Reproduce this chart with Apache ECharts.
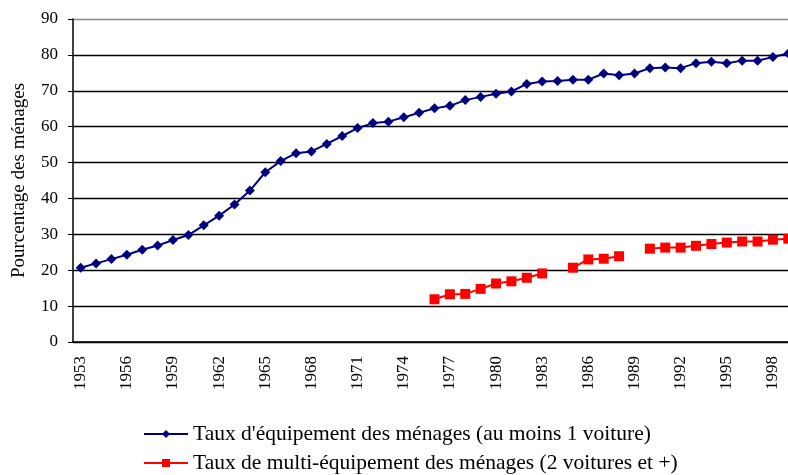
<!DOCTYPE html>
<html><head><meta charset="utf-8">
<script src="https://cdn.jsdelivr.net/npm/echarts@6/dist/echarts.min.js"></script>
<style>html,body{margin:0;padding:0;background:#fff}#c{width:788px;height:475px}</style>
</head><body><div id="c"></div>
<script>
const years = [];
for (let y = 1953; y <= 1999; y++) years.push(String(y));
const equipement = [20.7,21.9,23.1,24.3,25.7,26.9,28.4,29.8,32.5,35.2,38.3,42.2,47.3,50.4,52.6,53.1,55.2,57.4,59.6,61.0,61.4,62.6,63.9,65.1,65.8,67.4,68.3,69.2,69.8,71.9,72.6,72.7,73.1,73.1,74.8,74.3,74.8,76.3,76.5,76.3,77.7,78.1,77.7,78.4,78.4,79.4,80.4];
const multi = [null,null,null,null,null,null,null,null,null,null,null,null,null,null,null,null,null,null,null,null,null,null,null,11.9,13.3,13.4,14.8,16.3,16.9,17.9,19.1,null,20.7,23.0,23.2,23.9,null,26.0,26.3,26.3,26.8,27.3,27.7,28.0,28.0,28.5,28.8];
const yTicks = [0,10,20,30,40,50,60,70,80,90];
const name1 = "Taux d'équipement des ménages (au moins 1 voiture)";
const name2 = "Taux de multi-équipement des ménages (2 voitures et +)";

const legendText = {fontFamily:'Liberation Serif', fontSize:21.5, color:'#000'};
const chart = echarts.init(document.getElementById('c'), null, {renderer:'canvas'});
chart.setOption({
  animation:false,
  backgroundColor:'#fff',
  grid:{left:73, top:19, height:323, width:723, containLabel:false, outerBoundsMode:'none'},
  legend:[
    {left:138, top:418, itemWidth:44, itemHeight:10, textStyle:legendText, data:[name1]},
    {left:138, top:447, itemWidth:44, itemHeight:10, textStyle:legendText, data:[name2]}
  ],
  xAxis:{
    type:'category', data:years, boundaryGap:true,
    axisLine:{lineStyle:{color:'#000', width:1.5}},
    axisTick:{interval:0, length:5, lineStyle:{color:'#000', width:1}},
    axisLabel:{interval:2, rotate:90, margin:14, fontFamily:'Liberation Serif', fontSize:17, color:'#000'}
  },
  yAxis:{
    type:'value', min:0, max:90, interval:10,
    name:'Pourcentage des ménages', nameLocation:'middle', nameRotate:90, nameGap:44,
    nameTextStyle:{fontFamily:'Liberation Serif', fontSize:19, color:'#000'},
    axisLine:{show:true, lineStyle:{color:'#000', width:1.5}},
    axisTick:{show:true, length:5, lineStyle:{color:'#000'}},
    axisLabel:{margin:15, fontFamily:'Liberation Serif', fontSize:17, color:'#000',
      formatter:v => yTicks.includes(v) ? String(v) : ''},
    splitLine:{lineStyle:{color:['#000','#000','#000','#000','#000','#000','#000','#000','#000','#8a8a8a'], width:1.4}}
  },
  series:[
    {name:name1, type:'line', data:equipement, symbol:'diamond', symbolSize:10,
     itemStyle:{color:'#000080'}, lineStyle:{color:'#000080', width:2}},
    {name:name2, type:'line', data:multi, symbol:'rect', symbolSize:10, connectNulls:false,
     itemStyle:{color:'#ff0000'}, lineStyle:{color:'#ff0000', width:2}}
  ]
});
</script></body></html>
